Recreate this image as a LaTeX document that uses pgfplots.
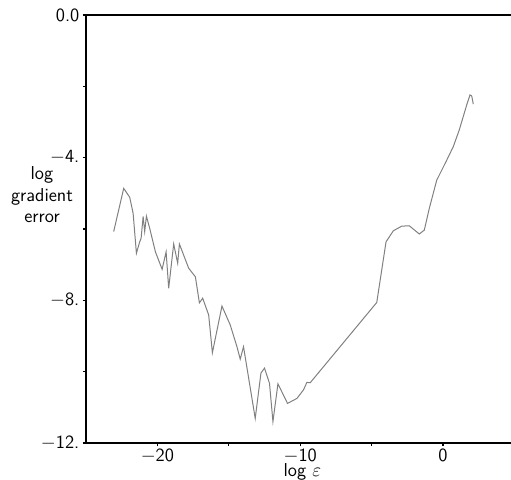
\documentclass[border=0pt]{standalone}
\usepackage{pgfplots}
\pgfplotsset{compat=1.18}
\renewcommand{\familydefault}{\sfdefault}

% gradient error vs step size
\pgfplotstableread{
x y
-23.06 -6.07
-22.36 -4.86
-21.94 -5.11
-21.70 -5.56
-21.47 -6.68
-21.24 -6.36
-21.14 -6.26
-21.00 -5.65
-20.89 -6.07
-20.77 -5.64
-20.54 -5.98
-20.14 -6.64
-19.67 -7.13
-19.39 -6.64
-19.21 -7.66
-18.86 -6.42
-18.58 -6.96
-18.46 -6.42
-17.81 -7.10
-17.34 -7.34
-17.06 -8.07
-16.83 -7.94
-16.41 -8.41
-16.15 -9.47
-15.48 -8.16
-14.90 -8.69
-14.43 -9.30
-14.20 -9.65
-13.97 -9.30
-13.15 -11.31
-12.75 -10.04
-12.50 -9.90
-12.15 -10.33
-11.91 -11.40
-11.56 -10.34
-10.89 -10.89
-10.23 -10.75
-9.77 -10.51
-9.53 -10.30
-9.30 -10.31
-4.64 -8.06
-3.99 -6.36
-3.48 -6.05
-2.89 -5.92
-2.36 -5.91
-1.66 -6.14
-1.31 -6.03
-0.96 -5.42
-0.44 -4.63
0.26 -4.07
0.72 -3.69
1.14 -3.22
1.66 -2.52
1.89 -2.24
2.01 -2.27
2.12 -2.50
}\errdata

\begin{document}
\begin{tikzpicture}[font=\fontsize{14}{16}\selectfont]
\begin{axis}[
    scale only axis,
    width=318.75pt,
    height=321pt,
    xmin=-25, xmax=4.76,
    ymin=-12, ymax=0,
    axis x line*=bottom,
    axis y line*=left,
    axis line style={-, line width=1.5pt},
    xtick={-20,-10,0},
    xticklabels={$-$20,$-$10,0},
    minor xtick={-15,-5},
    ytick={-12,-8,-4,0},
    yticklabels={$-$12.,$-$8.,$-$4.,0.0},
    minor ytick={-10,-6,-2},
    extra y ticks={0},
    extra y tick labels={},
    extra y tick style={grid=major, major grid style={black, line width=1.5pt}, major tick length=0pt},
    tick align=outside,
    major tick length=2.5pt,
    minor tick length=2pt,
    tick style={black, line width=0.9pt},
    xticklabel style={yshift=1.5pt},
    yticklabel style={xshift=1pt},
    xlabel={log $\varepsilon$},
    ylabel={log\\gradient\\error},
    every axis x label/.style={at={(axis description cs:0.509,0)}, anchor=north, inner sep=0pt, yshift=-15.5pt},
    every axis y label/.style={at={(axis description cs:0,0.58)}, anchor=center, align=center, xshift=-33pt},
    clip=false,
]
\addplot[black!50, line width=0.75pt] table {\errdata};
\coordinate (sw) at (rel axis cs:0,0);
\coordinate (ne) at (rel axis cs:1,1);
\end{axis}
\pgfresetboundingbox
\path ([xshift=-64.5pt,yshift=-27pt]sw) rectangle ([yshift=11.25pt]ne);
\end{tikzpicture}
\end{document}
